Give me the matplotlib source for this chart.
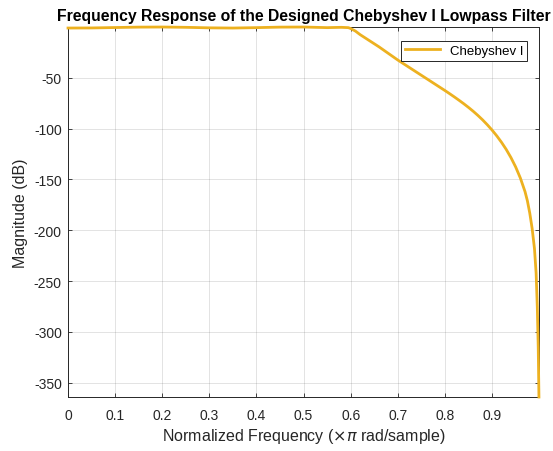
import numpy as np
import matplotlib.pyplot as plt

plt.rcParams['font.family'] = ['Liberation Sans', 'DejaVu Sans']
plt.rcParams['axes.unicode_minus'] = False

freq = [0.0, 0.05, 0.1, 0.15, 0.2, 0.25, 0.3, 0.35, 0.4, 0.45, 0.5, 0.55, 0.58, 0.595, 0.6,
        0.61, 0.62, 0.64, 0.66, 0.68, 0.70, 0.72, 0.74, 0.76, 0.78, 0.80,
        0.81, 0.82, 0.83, 0.84, 0.85, 0.86, 0.87, 0.88, 0.89, 0.90,
        0.91, 0.92, 0.93, 0.94, 0.95, 0.96, 0.97, 0.975, 0.98, 0.985, 0.99,
        0.9935, 0.996, 0.998, 0.9995]
mag_db = [-1.0, -0.9, -0.5, -0.1, 0.0, -0.3, -0.8, -1.0, -0.6, -0.1, 0.0, -0.6, -0.3, -0.6, -1.5,
          -4.0, -7.5, -13.5, -19.5, -26.0, -32.5, -38.5, -44.5, -50.5, -56.5, -62.5,
          -65.6, -68.8, -72.1, -75.5, -79.1, -82.9, -87.0, -91.4, -96.2, -101.4,
          -107.1, -113.4, -120.4, -128.4, -137.6, -148.5, -162.0, -171.0, -183.0, -198.0, -218.0,
          -242.0, -275.0, -315.0, -364.0]

fig = plt.figure(figsize=(5.53, 4.52), dpi=100)
ax = fig.add_axes([0.123, 0.1195, 0.852, 0.8185])

ax.plot(freq, mag_db, color='#EDB120', lw=2.0, label='Chebyshev I', clip_on=False, zorder=3)

ax.set_xlim(0, 1)
ax.set_ylim(-364, 0)
ax.set_xticks(np.arange(0, 1.0, 0.1))
ax.set_xticklabels(['0', '0.1', '0.2', '0.3', '0.4', '0.5', '0.6', '0.7', '0.8', '0.9'])
ax.set_yticks(np.arange(-350, 0, 50))

ax.grid(True, color='#262626', alpha=0.15, lw=0.6)
ax.tick_params(direction='in', top=True, right=True, length=3, width=0.6,
               colors='#262626', labelsize=10, labelcolor='#262626')
ax.tick_params(axis='x', pad=8)
ax.tick_params(axis='y', pad=4.5)
for s in ax.spines.values():
    s.set_color('#262626')
    s.set_linewidth(0.7)

ax.set_xlabel(r'Normalized Frequency ($\times\pi$ rad/sample)', fontsize=11.5, color='#262626', labelpad=3)
ax.set_ylabel('Magnitude (dB)', fontsize=11.5, color='#262626', labelpad=4)
ax.set_title('Frequency Response of the Designed Chebyshev I Lowpass Filter',
             fontsize=11.3, fontweight='bold', pad=5)

leg = ax.legend(loc='upper right', bbox_to_anchor=(0.9745, 0.963), fontsize=9.5, fancybox=False,
                framealpha=1, edgecolor='#262626', handlelength=2.65, handletextpad=0.75,
                borderpad=0.3, borderaxespad=0)
leg.get_frame().set_linewidth(0.7)

plt.savefig('out.png', dpi=100)
